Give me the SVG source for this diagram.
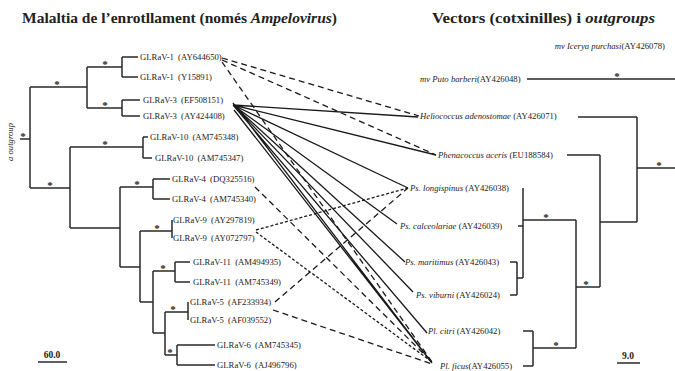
<svg xmlns="http://www.w3.org/2000/svg" width="675" height="371" viewBox="0 0 675 371">
<style>
.t{font-family:"Liberation Serif","Times New Roman",serif;fill:#222}
.ttl{font-size:15.5px;font-weight:bold}
.lf{font-size:8.7px;word-spacing:2px}
.rl{font-size:8.7px}
.i{font-style:italic}
.st{font-size:11px;font-weight:bold;text-anchor:middle}
.br{stroke:#2a2a2a;stroke-width:1.5;fill:none}
.c{stroke:#1a1a1a;stroke-width:1.3;fill:none}
.d{stroke-dasharray:6 4}
.s{stroke-dasharray:3 2}
</style>
<rect width="675" height="371" fill="#fff"/>
<g id="titles">
<text class="t ttl" x="22" y="23" textLength="315" lengthAdjust="spacingAndGlyphs">Malaltia de l’enrotllament (només <tspan class="i">Ampelovirus</tspan>)</text>
<text class="t ttl" x="432" y="23" textLength="223" lengthAdjust="spacingAndGlyphs">Vectors (cotxinilles) i <tspan class="i">outgroups</tspan></text>
</g>
<g id="left-tree">
<path class="br" d="M30 87V188M30 87H87M20 139H30M30 188H70M87 67V108M87 67H122M87 108H122M122 57V77M122 57H138M122 77H138M122 100V116M122 100H140M122 116H140M70 147V228M70 147H143M143 137V158M143 137H148M143 158H152M70 228H120M120 187V267M120 187H153M153 179V199M153 179H170M153 199H170M120 267H140M140 231V302M140 231H172M172 220V238M140 302H153M153 271V333M153 271H175M175 262V282M175 262H190M175 282H190M153 333H165M165 312V355M165 312H188M188 302V320M165 355H177M177 345V365M177 345H215M177 365H215"/>
<g class="t st">
<text x="57" y="88">*</text><text x="23" y="140">*</text><text x="50" y="189">*</text>
<text x="105" y="68">*</text><text x="105" y="109">*</text><text x="105" y="148">*</text>
<text x="137" y="188">*</text><text x="157" y="232">*</text><text x="163" y="272">*</text>
<text x="173" y="313">*</text><text x="170" y="356">*</text>
</g>
<text class="t rl i" transform="translate(13 142) rotate(-90)" text-anchor="middle">a outgroup</text>
</g>
<g id="left-leaves" class="t lf">
<text id="glrav1a" x="140" y="60">GLRaV-1 (AY644650)</text>
<text id="glrav1b" x="140" y="80">GLRaV-1 (Y15891)</text>
<text id="glrav3a" x="143" y="103">GLRaV-3 (EF508151)</text>
<text id="glrav3b" x="143" y="119">GLRaV-3 (AY424408)</text>
<text id="glrav10a" x="150" y="140">GLRaV-10 (AM745348)</text>
<text id="glrav10b" x="155" y="161">GLRaV-10 (AM745347)</text>
<text id="glrav4a" x="172" y="182">GLRaV-4 (DQ325516)</text>
<text id="glrav4b" x="172" y="202">GLRaV-4 (AM745340)</text>
<text id="glrav9a" x="173" y="223">GLRaV-9 (AY297819)</text>
<text id="glrav9b" x="173" y="241">GLRaV-9 (AY072797)</text>
<text id="glrav11a" x="193" y="265">GLRaV-11 (AM494935)</text>
<text id="glrav11b" x="193" y="285">GLRaV-11 (AM745349)</text>
<text id="glrav5a" x="190" y="305">GLRaV-5 (AF233934)</text>
<text id="glrav5b" x="190" y="323">GLRaV-5 (AF039552)</text>
<text id="glrav6a" x="217" y="348">GLRaV-6 (AM745345)</text>
<text id="glrav6b" x="217" y="368">GLRaV-6 (AJ496796)</text>
</g>
<g id="scale-left">
<text class="t" x="52" y="358" font-size="9.5" font-weight="bold" text-anchor="middle">60.0</text>
<path class="br" d="M38 362H67"/>
</g>
<g id="right-tree">
<path class="br" d="M527 79H675M578 117H637M567 155H600M523 188V278M518 226H523M510 262H517M510 295H517M517 262V295M517 278H523M523 220H576M576 220V348M523 331H533M523 366H533M533 331V366M533 348H576M576 287H600M600 155V287M600 222H637M637 117V222M637 168H675"/>
<g class="t st">
<text x="617" y="80">*</text><text x="659" y="169">*</text><text x="546" y="221">*</text>
<text x="586" y="288">*</text><text x="556" y="349">*</text>
</g>
</g>
<g id="right-leaves" class="t rl">
<text id="icerya" x="665" y="49" text-anchor="end"><tspan class="i">mv Icerya purchasi</tspan>(AY426078)</text>
<text id="puto" x="420" y="82"><tspan class="i">mv Puto barberi</tspan>(AY426048)</text>
<text id="helio" x="420" y="119"><tspan class="i">Heliococcus adenostomae</tspan> (AY426071)</text>
<text id="phena" x="438" y="158"><tspan class="i">Phenacoccus aceris</tspan> (EU188584)</text>
<text id="longi" x="410" y="191"><tspan class="i">Ps. longispinus</tspan> (AY426038)</text>
<text id="calce" x="400" y="229"><tspan class="i">Ps. calceolariae</tspan> (AY426039)</text>
<text id="mariti" x="405" y="265"><tspan class="i">Ps. maritimus</tspan> (AY426043)</text>
<text id="viburni" x="416" y="298"><tspan class="i">Ps. viburni</tspan> (AY426024)</text>
<text id="citri" x="428" y="334"><tspan class="i">Pl. citri</tspan> (AY426042)</text>
<text id="ficus" x="440" y="369"><tspan class="i">Pl. ficus</tspan>(AY426055)</text>
</g>
<g id="scale-right">
<text class="t" x="628" y="359" font-size="9.5" font-weight="bold" text-anchor="middle">9.0</text>
<path class="br" d="M617 363H640"/>
</g>
<g id="connectors">
<path class="c d" d="M222 58L419 116M222 60L436 155M222 62L432 362M255 187L432 362M275 302L408 188M273 310L432 364"/>
<path class="c s" d="M256 230L408 188M256 232L432 362"/>
<path class="c" d="M233 105L418 117M233 105L436 155M233 105L408 188M233 105L397 224M233 105L405 262M233 105L413 292M233 105L427 333M233 103L432 363M234 110L432 363"/>
</g>
</svg>
